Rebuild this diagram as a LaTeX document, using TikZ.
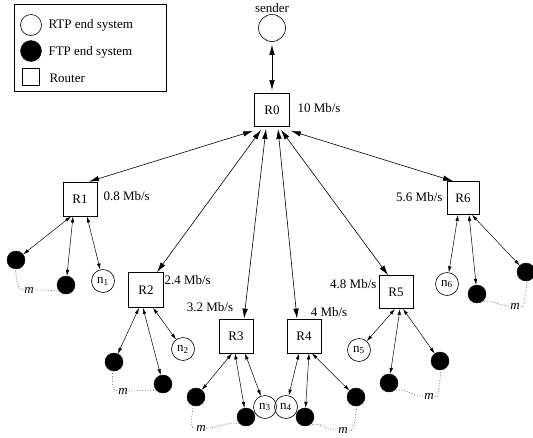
\documentclass[tikz,border=0pt]{standalone}
\usepackage{fontspec}
\setmainfont{Liberation Serif}
\usetikzlibrary{arrows.meta}

\begin{document}
\begin{tikzpicture}[x=1pt, y=-1pt, font=\fontsize{13}{15}\selectfont,
    router/.style={draw, line width=0.8pt, minimum width=34pt, minimum height=34pt, inner sep=0pt},
    rtp/.style={draw, circle, line width=0.6pt, minimum size=23pt, inner sep=0pt},
    ftp/.style={draw, circle, fill=black, minimum size=18pt, inner sep=0pt},
    trunk/.style={line width=0.6pt, {Latex[length=10pt,width=5.5pt]}-{Latex[length=10pt,width=5.5pt]}},
    branch/.style={line width=0.5pt, {Latex[length=6pt,width=3.5pt]}-{Latex[length=6pt,width=3.5pt]}},
    ring/.style={dotted, line width=0.7pt, black!70},
    mlabel/.style={inner sep=1pt, font=\fontsize{13}{15}\selectfont\itshape}]

            \useasboundingbox (0,0) rectangle (533,437);

            % legend
            \draw[line width=0.6pt] (14,4) rectangle (166,91);
            \node[rtp, minimum size=21pt] (keyrtp) at (31,25) {};
            \node[ftp, minimum size=21pt] (keyftp) at (31,51) {};
            \node[router, minimum width=17pt, minimum height=17pt, line width=0.6pt] (keyrouter) at (31,77) {};
            \node[anchor=west] (keyrtptext) at (45,25) {RTP end system};
            \node[anchor=west] (keyftptext) at (45,52) {FTP end system};
            \node[anchor=west] (keyroutertext) at (46,78) {Router};

            % sender and routers
            \node (senderlabel) at (272,8) {sender};
            \node[rtp, minimum size=27pt] (sender) at (272,28) {};
            \node[router, minimum width=35pt, minimum height=33pt] (R0) at (272,110) {R0};
            \node[router] (R1) at (80,199) {R1};
            \node[router, minimum width=35pt, minimum height=35pt] (R2) at (146,290) {R2};
            \node[router] (R3) at (236,336) {R3};
            \node[router] (R4) at (304,336) {R4};
            \node[router, minimum height=33pt] (R5) at (396,292) {R5};
            \node[router, minimum width=32pt, minimum height=33pt] (R6) at (463,198) {R6};

            % link rates
            \node[anchor=west] (rate0) at (294,108) {10 Mb/s};
            \node[anchor=west] (rate1) at (100,196) {0.8 Mb/s};
            \node[anchor=west] (rate2) at (161,280) {2.4 Mb/s};
            \node (rate3) at (210,307) {3.2 Mb/s};
            \node (rate4) at (329,312) {4 Mb/s};
            \node[anchor=east] (rate5) at (380,284) {4.8 Mb/s};
            \node[anchor=east] (rate6) at (446,197) {5.6 Mb/s};

            % end systems
            \node[ftp] (b11) at (16,260) {};   \node[ftp] (b12) at (66,285) {};   \node[rtp] (n1) at (103,281) {n\textsubscript{1}};
            \node[ftp] (b21) at (114,362) {};  \node[ftp] (b22) at (163,384) {};  \node[rtp] (n2) at (183,349) {n\textsubscript{2}};
            \node[ftp] (b31) at (196,397) {};  \node[ftp] (b32) at (246,417) {};  \node[rtp] (n3) at (265,407) {n\textsubscript{3}};
            \node[rtp] (n4) at (286,407) {n\textsubscript{4}}; \node[ftp] (b41) at (305,417) {};  \node[ftp] (b42) at (356,397) {};
            \node[rtp] (n5) at (359,350) {n\textsubscript{5}}; \node[ftp] (b51) at (389,383) {};  \node[ftp] (b52) at (440,361) {};
            \node[rtp] (n6) at (447,284) {n\textsubscript{6}}; \node[ftp] (b61) at (477,294) {};  \node[ftp] (b62) at (526,272) {};

            \node[mlabel] (m1) at (29,290) {m};
            \node[mlabel] (m2) at (123,391) {m};
            \node[mlabel] (m3) at (201,428) {m};
            \node[mlabel] (m4) at (343,430) {m};
            \node[mlabel] (m5) at (429,396) {m};
            \node[mlabel] (m6) at (515,306) {m};

            % links from the sender down
            \draw[trunk, shorten <=3pt, shorten >=3pt] (sender) -- (R0);
            \draw[trunk] ([shift={(-19,4)}]R0.south) -- ([xshift=9]R1.north);
            \draw[trunk] ([shift={(-11,3)}]R0.south) -- ([xshift=11]R2.north);
            \draw[trunk] ([shift={(-6,2)}]R0.south) -- ([xshift=8]R3.north);
            \draw[trunk] ([shift={(6,2)}]R0.south) -- ([xshift=-7]R4.north);
            \draw[trunk] ([shift={(9,3)}]R0.south) -- ([xshift=-8]R5.north);
            \draw[trunk] ([shift={(19,4)}]R0.south) -- ([xshift=-10]R6.north);

            \draw[branch] ([xshift=-9]R1.south) -- (b11);
            \draw[branch] ([xshift=-7]R1.south) -- (b12);
            \draw[branch] ([xshift=7]R1.south) -- (n1);
            \draw[branch] ([xshift=-7]R2.south) -- (b21);
            \draw[branch] ([xshift=-3]R2.south) -- (b22);
            \draw[branch] ([xshift=7]R2.south) -- (n2);
            \draw[branch] ([xshift=-4]R3.south) -- (b31);
            \draw[branch] ([xshift=-1]R3.south) -- (b32);
            \draw[branch] ([xshift=9]R3.south) -- (n3);
            \draw[branch] ([xshift=-5]R4.south) -- (n4);
            \draw[branch] ([xshift=5]R4.south) -- (b41);
            \draw[branch] ([xshift=8]R4.south) -- (b42);
            \draw[branch] ([xshift=-1]R5.south) -- (n5);
            \draw[branch] ([xshift=4]R5.south) -- (b51);
            \draw[branch] ([xshift=7]R5.south) -- (b52);
            \draw[branch] ([xshift=-5]R6.south) -- (n6);
            \draw[branch] ([xshift=6]R6.south) -- (b61);
            \draw[branch] ([xshift=9]R6.south) -- (b62);

            % m ftp flows per router
            \draw[ring] (b11.250) to[out=60,in=190] (m1.west);
            \draw[ring] (m1.east) to[out=0,in=170] (b12.225);
            \draw[ring] (b21.250) to[out=60,in=190] (m2.west);
            \draw[ring] (m2.east) to[out=0,in=175] (b22.225);
            \draw[ring] (b31.250) to[out=70,in=200] (m3.west);
            \draw[ring] (m3.east) to[out=0,in=170] (b32.225);
            \draw[ring] (b41.300) to[out=20,in=180] (m4.west);
            \draw[ring] (m4.east) to[out=-45,in=110] (b42.290);
            \draw[ring] (b51.300) to[out=20,in=180] (m5.west);
            \draw[ring] (m5.east) to[out=-60,in=110] (b52.290);
            \draw[ring] (b61.300) to[out=20,in=180] (m6.west);
            \draw[ring] (m6.east) to[out=-60,in=110] (b62.290);
        \end{tikzpicture}
\end{document}
